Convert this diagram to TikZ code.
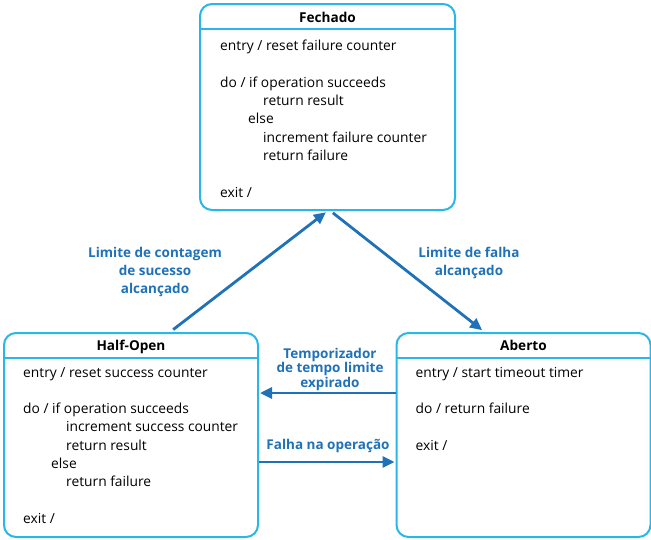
\documentclass[tikz,border=0pt]{standalone}
\usepackage{fontspec}
\setmainfont{Open Sans}
\usetikzlibrary{arrows.meta,positioning}
\definecolor{boxline}{RGB}{41,182,232}
\definecolor{transblue}{RGB}{31,113,184}
\tikzset{
  state/.style={draw=boxline, line width=2pt, rounded corners=12pt, inner sep=0pt},
  statetitle/.style={font=\fontsize{13.6}{15}\selectfont\bfseries, anchor=base, inner sep=0pt},
  statebody/.style={font=\fontsize{13.8}{18.3}\selectfont, align=left, anchor=north west, inner sep=0pt},
  trans/.style={draw=transblue, line width=2.8pt, -{Triangle[length=12pt,width=11pt]}},
  translabel/.style={text=transblue, font=\fontsize{13.5}{18}\selectfont\bfseries, align=center, inner sep=0pt},
  translabeltight/.style={translabel, font=\fontsize{13.5}{14.5}\selectfont\bfseries},
}
\newcommand{\ind}{\hspace*{43pt}}
\newcommand{\indelse}{\hspace*{28pt}}

\begin{document}
\begin{tikzpicture}[x=1pt,y=-1pt]
\useasboundingbox (0,0) rectangle (651,539);
% states
\node[state, minimum width=255pt, minimum height=206pt] (fechado) at (327.5,107) {};
\node[state, minimum width=254pt, minimum height=204pt] (hopen) at (131,435) {};
\node[state, minimum width=254pt, minimum height=204pt] (aberto) at (523.5,435) {};
\foreach \s in {fechado,hopen,aberto}
  \draw[boxline, line width=2pt] ([yshift=-26pt]\s.north west) -- ([yshift=-26pt]\s.north east);
% titles
\node[statetitle] (fechadotitle) at ([yshift=-19pt]fechado.north) {Fechado};
\node[statetitle] (hopentitle) at ([yshift=-18pt]hopen.north) {Half-Open};
\node[statetitle] (abertotitle) at ([yshift=-18pt]aberto.north) {Aberto};
% bodies
\node[statebody] (fechadobody) at ([xshift=21pt,yshift=-37pt]fechado.north west)
  {entry / reset failure counter\\[18.3pt]
   do / if operation succeeds\\
   \ind return result\\
   \indelse else\\
   \ind increment failure counter\\
   \ind return failure\\[18.3pt]
   exit /};
\node[statebody] (hopenbody) at ([xshift=20pt,yshift=-35pt]hopen.north west)
  {entry / reset success counter\\[18.3pt]
   do / if operation succeeds\\
   \ind increment success counter\\
   \ind return result\\
   \indelse else\\
   \ind return failure\\[18.3pt]
   exit /};
\node[statebody] (abertobody) at ([xshift=20pt,yshift=-35pt]aberto.north west)
  {entry / start timeout timer\\[18.3pt]
   do / return failure\\[18.3pt]
   exit /};
% transitions
\draw[trans, shorten <=4pt, shorten >=2pt] ([xshift=39pt]hopen.north) -- (fechado.south);
\draw[trans, shorten <=3pt, shorten >=3pt] ([xshift=3pt]fechado.south) -- ([xshift=-39pt]aberto.north);
\draw[trans, shorten >=1pt] ([yshift=42pt]aberto.west) -- ([yshift=42pt]hopen.east);
\draw[trans, shorten >=1pt] ([yshift=-27pt]hopen.east) -- ([yshift=-27pt]aberto.west);
% labels
\node[translabel] (lblsucesso) at (155,272) {Limite de contagem\\de sucesso\\alcançado};
\node[translabel] (lblfalha) at (469,263) {Limite de falha\\alcançado};
\node[translabeltight] (lbltimer) at (330,369) {Temporizador\\de tempo limite\\expirado};
\node[translabel] (lbloper) at (328,446) {Falha na operação};
\end{tikzpicture}
\end{document}
